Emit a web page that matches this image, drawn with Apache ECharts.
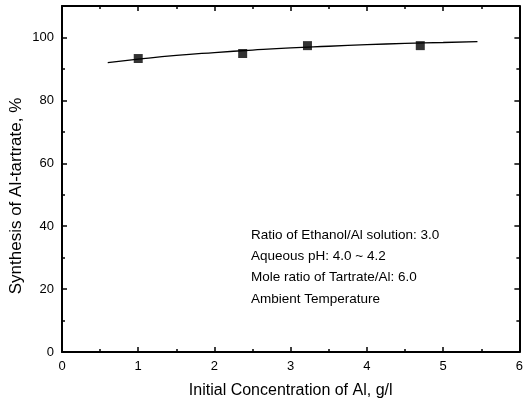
<!DOCTYPE html>
<html>
<head>
<meta charset="utf-8">
<script src="https://cdn.jsdelivr.net/npm/echarts@6/dist/echarts.min.js"></script>
<style>
  html, body { margin: 0; padding: 0; background: #fff; }
  #main { width: 526px; height: 405px; }
</style>
</head>
<body>
<div id="main"></div>
<script>
// measured points (squares)
var concData = [1.0, 2.37, 3.22, 4.7];
var synthData = [93.3, 94.9, 97.4, 97.4];
// fitted curve
var fitX = [0.6, 1.0, 1.5, 2.0, 2.5, 3.0, 3.5, 4.0, 4.5, 5.0, 5.45];
var fitY = [92.0, 93.1, 94.3, 95.2, 96.0, 96.7, 97.2, 97.7, 98.1, 98.4, 98.7];
var notes = [
  'Ratio of Ethanol/Al solution: 3.0',
  'Aqueous pH: 4.0 ~ 4.2',
  'Mole ratio of Tartrate/Al: 6.0',
  'Ambient Temperature'
];

var font = '"Liberation Sans", Arial, sans-serif';
var myChart = echarts.init(document.getElementById('main'));

// shared axis look: black frame, inward ticks
function axisStyle(extra) {
  var base = {
    axisLine: { show: true, onZero: false, lineStyle: { color: '#000', width: 2 } },
    axisTick: { show: true, inside: true, length: 5, lineStyle: { color: '#000', width: 1.5 } },
    minorTick: { show: true, splitNumber: 2, length: 3, lineStyle: { color: '#000', width: 1.5 } },
    splitLine: { show: false },
    axisLabel: { color: '#000', fontFamily: font, fontSize: 13 }
  };
  return Object.assign(base, extra);
}

var fitData = fitX.map(function (x, i) { return [x, fitY[i]]; });
var pointData = concData.map(function (x, i) { return [x, synthData[i]]; });

var graphics = notes.map(function (t, i) {
  return {
    type: 'text', left: 251, top: 228 + i * 21.3,
    style: { text: t, fill: '#000', font: '13.5px ' + font }
  };
});
// y axis title, placed by hand (sits a bit below the axis centre)
graphics.push({
  type: 'text', x: 16, y: 196, rotation: Math.PI / 2,
  style: {
    text: 'Synthesis of Al-tartrate, %', fill: '#000', font: '17px ' + font,
    textAlign: 'center', textVerticalAlign: 'middle'
  }
});

var option = {
  animation: false,
  backgroundColor: '#fff',
  grid: { left: 62, right: 5, top: 6, bottom: 53 },
  xAxis: [
    axisStyle({
      type: 'value', min: 0, max: 6, interval: 1, position: 'bottom',
      name: 'Initial Concentration of Al, g/l', nameLocation: 'middle', nameGap: 31,
      nameTextStyle: { color: '#000', fontFamily: font, fontSize: 16 }
    }),
    axisStyle({
      type: 'value', min: 0, max: 6, interval: 1, position: 'top',
      axisLabel: { show: false }
    })
  ],
  yAxis: [
    axisStyle({
      type: 'value', min: 0, max: 110, interval: 20, position: 'left',
      axisLabel: { color: '#000', fontFamily: font, fontSize: 13, showMaxLabel: false }
    }),
    axisStyle({
      type: 'value', min: 0, max: 110, interval: 20, position: 'right',
      axisLabel: { show: false }
    })
  ],
  graphic: graphics,
  series: [
    {
      type: 'line', data: fitData, smooth: true, showSymbol: false,
      lineStyle: { color: '#000', width: 1.3 }
    },
    {
      type: 'scatter', data: pointData, symbol: 'rect', symbolSize: 9,
      itemStyle: { color: '#000' }
    }
  ]
};
myChart.setOption(option);
</script>
</body>
</html>
